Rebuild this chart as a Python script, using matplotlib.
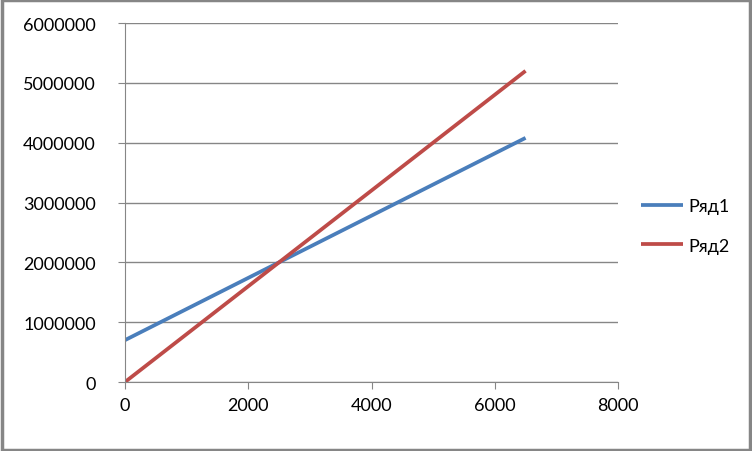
import matplotlib.pyplot as plt
from matplotlib.patches import Rectangle

# данные
x_vals = [0, 6500]
row1 = [700000, 4080000]
row2 = [0, 5200000]
names = ['Ряд1', 'Ряд2']
colors = ['#4A7EBB', '#BE4B48']

plt.rcParams['font.family'] = ['Lato', 'DejaVu Sans']

fig = plt.figure(figsize=(7.52, 4.52), dpi=100)
ax = fig.add_axes([125 / 752, 1 - 383 / 452, (618 - 125) / 752, (383 - 24) / 452])

for y, name, c in zip([row1, row2], names, colors):
    ax.plot(x_vals, y, color=c, linewidth=2.7, label=name, solid_capstyle='butt')

ax.set_xlim(0, 8000)
ax.set_ylim(0, 6000000)
ax.set_xticks(range(0, 8001, 2000))
ax.set_yticks(range(0, 6000001, 1000000))
ax.set_xticklabels([str(v) for v in range(0, 8001, 2000)])
ax.set_yticklabels([str(v) for v in range(0, 6000001, 1000000)])
ax.yaxis.grid(True, color='#868686', linewidth=1)
ax.set_axisbelow(True)
for side in ['top', 'right']:
    ax.spines[side].set_visible(False)
for side in ['left', 'bottom']:
    ax.spines[side].set_color('#868686')
ax.tick_params(axis='both', colors='#868686', labelcolor='black', labelsize=13,
               direction='out', length=5)
ax.tick_params(axis='y', pad=16)
ax.tick_params(axis='x', pad=6)

ax.legend(loc='center left', bbox_to_anchor=(1.014, 0.435), frameon=False,
          fontsize=13, handlelength=2.3, handletextpad=0.3, labelspacing=1.3)

# рамка вокруг диаграммы
fig.patches.append(Rectangle((0.002, 0.003), 0.995, 0.994, transform=fig.transFigure,
                             fill=False, edgecolor='#868686', linewidth=2.5))

fig.savefig('out.png', dpi=100)
